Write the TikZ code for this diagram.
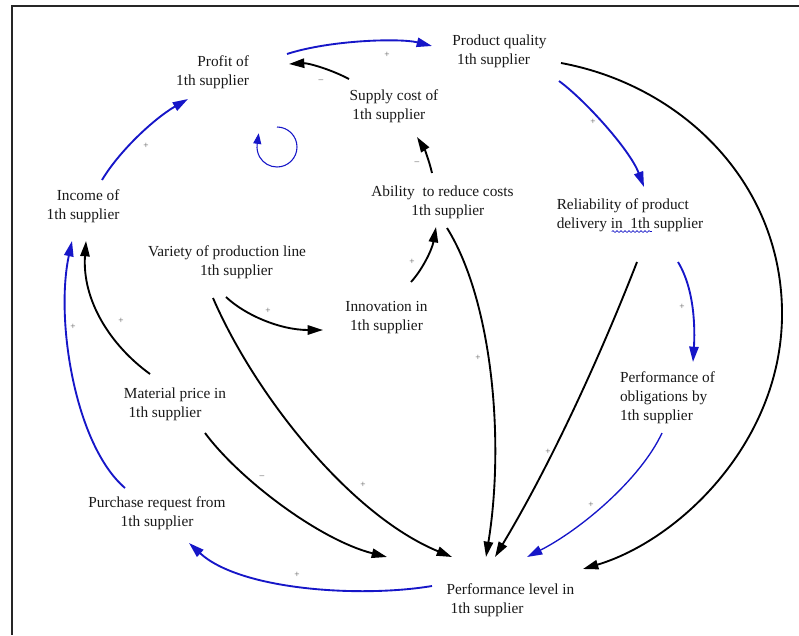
\documentclass[tikz,border=0pt]{standalone}
\usepackage{fontspec}
\setmainfont{Liberation Serif}
\usetikzlibrary{arrows.meta,decorations.pathmorphing}
\definecolor{cldblue}{RGB}{22,22,200}
\definecolor{txtc}{RGB}{25,25,25}
\definecolor{sgnc}{RGB}{95,95,95}
\begin{document}
\begin{tikzpicture}[x=0.75pt,y=-0.75pt,
  var/.style={font=\fontsize{11.5}{14.25}\selectfont, text=txtc, inner sep=0pt, outer sep=0pt},
  sgn/.style={font=\fontsize{7}{7}\selectfont, text=sgnc, inner sep=0pt},
  blk/.style={draw=black, line width=1.4pt, -{Triangle[length=11.5pt,width=7pt]}},
  blu/.style={draw=cldblue, line width=1.4pt, -{Triangle[length=11.5pt,width=7pt]}},
]
\useasboundingbox (0,0) rectangle (799,635);
\fill[white] (0,0) rectangle (799,635);
% frame
\draw[line width=1.5pt, black!85] (799,6) -- (12,6) -- (12,635);

% variables
\node[var, align=right] (profit) at (212.5,72.5) {Profit of\\1th supplier};
\node[var, align=left] (quality) at (499.5,51.5) {Product quality\\\hspace*{3.5pt}1th supplier};
\node[var, align=left] (supply) at (394,106) {Supply cost of\\\hspace*{2pt}1th supplier};
\node[var, align=left] (ability) at (442.5,202.5) {Ability\ \ to reduce costs\\\hspace*{30pt}1th supplier};
\node[var, align=right] (income) at (83,206) {Income of\\1th supplier};
\node[var, align=left] (reliab) at (630,215.5) {Reliability of product\\delivery in\ \ 1th supplier};
\node[var, align=left] (variety) at (227,262.5) {Variety of production line\\\hspace*{39pt}1th supplier};
\node[var, align=left] (innov) at (386.5,317.5) {Innovation in\\\hspace*{3.5pt}1th supplier};
\node[var, align=left] (material) at (175,404.5) {Material price in\\\hspace*{3.5pt}1th supplier};
\node[var, align=left] (oblig) at (667.5,397.5) {Performance of\\obligations by\\1th supplier};
\node[var, align=center] (purchase) at (157,513.5) {Purchase request from\\1th supplier};
\node[var, align=left] (perf) at (510.5,600.5) {Performance level in\\\hspace*{3pt}1th supplier};

% spell-check underline
\draw[cldblue, line width=0.5pt, decorate, decoration={snake, amplitude=0.7pt, segment length=3pt}]
  ([shift={(55,-0.5)}]reliab.south west) -- ([shift={(95,-0.5)}]reliab.south west);

% connectors
\draw[blu] ([shift={(74.5,-18.5)}]profit.center) .. controls (330,40) and (400,38) .. ([shift={(-67.5,-5.5)}]quality.center);
\draw[blk] ([shift={(-45,-27)}]supply.center) .. controls (330,69) and (308,63) .. ([shift={(76.5,-8.5)}]profit.center);
\draw[blu] ([shift={(19,-26)}]income.center) .. controls (120,150) and (155,118) .. ([shift={(-24.5,26.5)}]profit.center);
\draw[blk] ([shift={(-10.5,-29.5)}]ability.center) .. controls (429,160) and (424,148) .. ([shift={(23,31)}]supply.center);
\draw[blk] ([shift={(24.5,-35.5)}]innov.center) .. controls (422,270) and (432,250) .. ([shift={(-6.5,24.5)}]ability.center);
\draw[blk] ([shift={(-1,34.5)}]variety.center) .. controls (245,315) and (280,330) .. ([shift={(-63.5,12.5)}]innov.center);
\draw[blk] ([shift={(-25,-30.5)}]material.center) .. controls (110,345) and (82,300) .. ([shift={(3,35)}]income.center);
\draw[blu] ([shift={(-32,-25.5)}]purchase.center) .. controls (75,445) and (55,320) .. ([shift={(-11,35)}]income.center);
\draw[blk] ([shift={(-14,35.5)}]variety.center) .. controls (255,395) and (350,515) .. ([shift={(-58.5,-43.5)}]perf.center);
\draw[blk] ([shift={(30,28.5)}]material.center) .. controls (240,480) and (320,540) .. ([shift={(-123.5,-43.5)}]perf.center);
\draw[blk] ([shift={(4.5,25.5)}]ability.center) .. controls (492,300) and (505,440) .. ([shift={(-24.5,-43.5)}]perf.center);
\draw[blk] ([shift={(7,46.5)}]reliab.center) .. controls (598,362) and (549,467) .. ([shift={(-15.5,-43.5)}]perf.center);
\draw[blu] ([shift={(48,46.5)}]reliab.center) .. controls (695,290) and (695,330) .. ([shift={(25.5,-35.5)}]oblig.center);
\draw[blu, line width=1pt] ([shift={(-5.5,35.5)}]oblig.center) .. controls (640,480) and (580,530) .. ([shift={(16.5,-43.5)}]perf.center);
\draw[blk] ([shift={(61.5,11.5)}]quality.center) .. controls (680,85) and (780,180) .. (782,310) .. controls (784,440) and (680,540) .. ([shift={(72.5,-31.5)}]perf.center);
\draw[blu] ([shift={(59.5,29.5)}]quality.center) .. controls (585,100) and (630,150) .. ([shift={(14,-28.5)}]reliab.center);
\draw[blu] ([shift={(-78.5,-14.5)}]perf.center) .. controls (360,598) and (240,590) .. ([shift={(32,29.5)}]purchase.center);

% loop symbol
\coordinate (loopc) at (277,147);
\draw[cldblue, line width=0.8pt, -{Triangle[length=8pt,width=6pt]}]
  ([shift={(0,-20)}]loopc) arc[start angle=-90, end angle=188, radius=20] -- ++(1.5,-11);

% polarity signs
\node[sgn] (s1) at (387,55) {+};
\node[sgn] (s2) at (321,81) {\textendash};
\node[sgn] (s3) at (146,146) {+};
\node[sgn] (s4) at (417,163) {\textendash};
\node[sgn] (s5) at (412,262) {+};
\node[sgn] (s6) at (268,311) {+};
\node[sgn] (s7) at (121,321) {+};
\node[sgn] (s8) at (73,327) {+};
\node[sgn] (s9) at (363,485) {+};
\node[sgn] (s10) at (262,477) {\textendash};
\node[sgn] (s11) at (478,358) {+};
\node[sgn] (s12) at (548,452) {+};
\node[sgn] (s13) at (682,307) {+};
\node[sgn] (s14) at (591,505) {+};
\node[sgn] (s16) at (593,122) {+};
\node[sgn] (s17) at (297,575) {+};
\end{tikzpicture}
\end{document}
